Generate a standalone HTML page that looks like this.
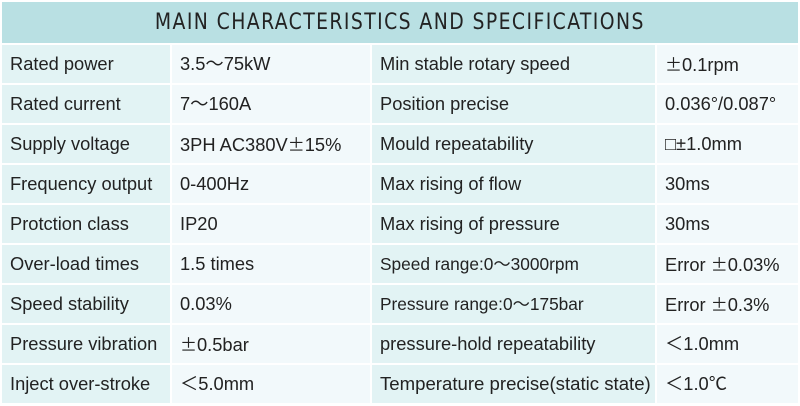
<!DOCTYPE html><html><head><style>
body{margin:0;width:800px;height:406px;background:#fff;overflow:hidden;font-family:"Liberation Sans","Noto Sans CJK SC",sans-serif;}
.t{position:absolute;left:2px;top:2px;width:796px;height:41px;background:#b9e0e3;text-align:center;line-height:42px;font-family:"DejaVu Sans Condensed","Liberation Sans Narrow","Liberation Sans",sans-serif;font-size:22px;color:#222;letter-spacing:1.5px;}
.t span{display:inline-block;transform:scaleX(0.95);}
.g{position:absolute;left:2px;top:45px;display:grid;grid-template-columns:168px 198px 283px 141px;grid-auto-rows:38px;gap:2px;}
.g div{padding-left:8px;font-size:18.3px;color:#222;white-space:nowrap;line-height:38px;overflow:hidden;}
.l{background:#e2f3f4}.v{background:#f2f9fb}
.c{font-family:"Noto Sans CJK SC",sans-serif;font-size:17px;}
</style></head><body>
<div class="t"><span>MAIN CHARACTERISTICS AND SPECIFICATIONS</span></div>
<div class="g">
<div class="l">Rated power</div><div class="v">3.5～75kW</div><div class="l">Min stable rotary speed</div><div class="v"><span class="c">±</span>0.1rpm</div>
<div class="l">Rated current</div><div class="v">7～160A</div><div class="l">Position precise</div><div class="v">0.036°/0.087°</div>
<div class="l">Supply voltage</div><div class="v">3PH AC380V<span class="c">±</span>15%</div><div class="l">Mould repeatability</div><div class="v">□±1.0mm</div>
<div class="l">Frequency output</div><div class="v">0-400Hz</div><div class="l">Max rising of flow</div><div class="v">30ms</div>
<div class="l">Protction class</div><div class="v">IP20</div><div class="l">Max rising of pressure</div><div class="v">30ms</div>
<div class="l">Over-load times</div><div class="v">1.5 times</div><div class="l" style="font-size:17.3px">Speed range:0～3000rpm</div><div class="v">Error <span class="c">±</span>0.03%</div>
<div class="l">Speed stability</div><div class="v">0.03%</div><div class="l" style="font-size:17.3px">Pressure range:0～175bar</div><div class="v">Error <span class="c">±</span>0.3%</div>
<div class="l">Pressure vibration</div><div class="v"><span class="c">±</span>0.5bar</div><div class="l">pressure-hold repeatability</div><div class="v">＜1.0mm</div>
<div class="l">Inject over-stroke</div><div class="v">＜5.0mm</div><div class="l" style="font-size:18.6px">Temperature precise(static state)</div><div class="v">＜1.0℃</div>
</div>
</body></html>
